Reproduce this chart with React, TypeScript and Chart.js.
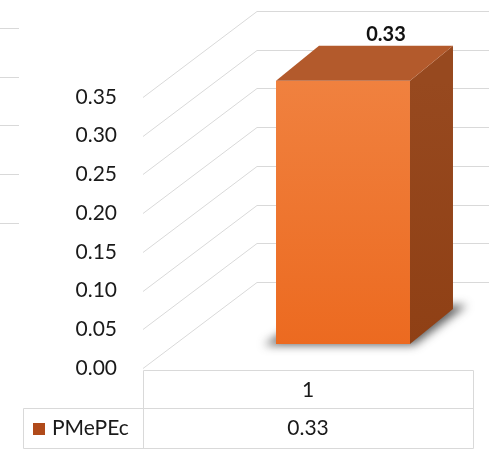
import React, { useEffect, useRef } from "react";
import { Chart, registerables } from "chart.js";

Chart.register(...registerables);

// ---- data ----
const categories: string[] = ["1"];
const seriesName = "PMePEc";
const seriesValues: number[] = [0.33];
const yTickValues: number[] = [0, 0.05, 0.1, 0.15, 0.2, 0.25, 0.3, 0.35];

// ---- styles ----
const FONT = "Lato, 'Open Sans', 'DejaVu Sans', sans-serif";
const GRID = "#d9d9d9";
const TEXT = "#1a1a1a";
const DEPTH_X = 114;
const DEPTH_Y = -86;

const threeD = {
  id: "threeD",
  beforeDatasetsDraw(chart: any) {
    const { ctx, chartArea: ca, scales } = chart;
    const ys = scales.y;
    const xs = scales.x;
    ctx.save();
    ctx.strokeStyle = GRID;
    ctx.lineWidth = 1;
    // faint lines of a neighbouring chart at the left border
    [28, 77, 125, 174, 223].forEach((sy) => {
      ctx.beginPath();
      ctx.moveTo(0, sy + 0.5);
      ctx.lineTo(19, sy + 0.5);
      ctx.stroke();
    });
    // side wall and back wall grid lines
    yTickValues.forEach((v) => {
      const fy = Math.round(ys.getPixelForValue(v)) + 0.5;
      ctx.beginPath();
      ctx.moveTo(ca.left, fy);
      ctx.lineTo(ca.left + DEPTH_X, fy + DEPTH_Y);
      ctx.lineTo(chart.width, fy + DEPTH_Y);
      ctx.stroke();
    });

    // data table
    const top = Math.round(ys.getPixelForValue(0)) + 2.5;
    const rowH = 38;
    const mid = top + rowH;
    const bottom = mid + 40;
    const legLeft = 23.5;
    const left = ca.left + 0.5;
    const right = ca.right + 0.5;
    ctx.beginPath();
    ctx.moveTo(left, top);
    ctx.lineTo(right, top);
    ctx.lineTo(right, bottom);
    ctx.lineTo(legLeft, bottom);
    ctx.lineTo(legLeft, mid);
    ctx.lineTo(right, mid);
    ctx.moveTo(left, top);
    ctx.lineTo(left, bottom);
    ctx.stroke();

    ctx.fillStyle = TEXT;
    ctx.font = `21px ${FONT}`;
    ctx.textBaseline = "middle";
    ctx.textAlign = "center";
    categories.forEach((c, i) => {
      const cx = xs.getPixelForValue(i);
      ctx.fillText(c, cx, (top + mid) / 2 + 1);
      ctx.fillText(seriesValues[i].toFixed(2), cx, (mid + bottom) / 2);
    });
    ctx.textAlign = "left";
    ctx.fillText(seriesName, 52, (mid + bottom) / 2);
    ctx.fillStyle = "#b04a1a";
    ctx.fillRect(33, Math.round((mid + bottom) / 2) - 6, 12, 12);
    ctx.restore();
  },
  afterDatasetsDraw(chart: any) {
    const { ctx } = chart;
    const meta = chart.getDatasetMeta(0);
    meta.data.forEach((el: any, i: number) => {
      const { x, y, base, width } = el.getProps(["x", "y", "base", "width"], true);
      const offX = 35;
      const offY = -24;
      const ddx = 43;
      const ddy = -35;
      const l = x - width / 2 + offX;
      const r = l + width;
      const b = base + offY;
      const t = b - (base - y) * 1.03;

      ctx.save();
      // floor shadow
      ctx.filter = "blur(5px)";
      ctx.fillStyle = "rgba(40,40,40,0.75)";
      ctx.beginPath();
      ctx.moveTo(l - 12, b + 1);
      ctx.lineTo(r + 4, b + 1);
      ctx.lineTo(r + ddx + 14, b + ddy - 4);
      ctx.lineTo(l + ddx, b + ddy);
      ctx.closePath();
      ctx.fill();
      ctx.filter = "none";

      // front face
      const g = ctx.createLinearGradient(0, t, 0, b);
      g.addColorStop(0, "#f0813f");
      g.addColorStop(1, "#ec6a20");
      ctx.fillStyle = g;
      ctx.fillRect(l, t, r - l, b - t);

      // side face
      const gs = ctx.createLinearGradient(0, t, 0, b);
      gs.addColorStop(0, "#97491f");
      gs.addColorStop(1, "#8f4015");
      ctx.fillStyle = gs;
      ctx.beginPath();
      ctx.moveTo(r, t);
      ctx.lineTo(r + ddx, t + ddy);
      ctx.lineTo(r + ddx, b + ddy);
      ctx.lineTo(r, b);
      ctx.closePath();
      ctx.fill();

      // top face
      ctx.fillStyle = "#b35a2c";
      ctx.beginPath();
      ctx.moveTo(l, t);
      ctx.lineTo(l + ddx, t + ddy);
      ctx.lineTo(r + ddx, t + ddy);
      ctx.lineTo(r, t);
      ctx.closePath();
      ctx.fill();

      // value label
      ctx.fillStyle = "#111111";
      ctx.font = `bold 20px ${FONT}`;
      ctx.textAlign = "center";
      ctx.textBaseline = "middle";
      ctx.fillText(seriesValues[i].toFixed(2), (l + r) / 2 + ddx, t + ddy - 11);
      ctx.restore();
    });
  },
};

export default function App() {
  const ref = useRef<HTMLCanvasElement | null>(null);
  useEffect(() => {
    if (!ref.current) return;
    const chart = new Chart(ref.current, {
      type: "bar",
      data: {
        labels: categories,
        datasets: [
          {
            label: seriesName,
            data: seriesValues,
            backgroundColor: "rgba(0,0,0,0)",
            borderWidth: 0,
            barPercentage: 0.406,
            categoryPercentage: 1,
          },
        ],
      },
      options: {
        responsive: false,
        animation: false,
        devicePixelRatio: 1,
        layout: { padding: { left: 0, right: 16, top: 97, bottom: 94 } },
        plugins: {
          legend: { display: false },
          tooltip: { enabled: false },
        },
        scales: {
          x: { display: false },
          y: {
            min: 0,
            max: 0.35,
            afterFit: (s: any) => {
              s.width = 143;
            },
            grid: { display: false, drawTicks: false },
            border: { display: false },
            ticks: {
              stepSize: 0.05,
              padding: 26,
              color: TEXT,
              font: { family: FONT, size: 21 },
              callback: (v: any) => Number(v).toFixed(2),
            },
          },
        },
      },
      plugins: [threeD],
    });
    return () => chart.destroy();
  }, []);
  return (
    <div style={{ position: "absolute", left: 0, top: 0, width: 489, height: 462, background: "#fff" }}>
      <canvas ref={ref} width={489} height={462} style={{ display: "block" }} />
    </div>
  );
}
